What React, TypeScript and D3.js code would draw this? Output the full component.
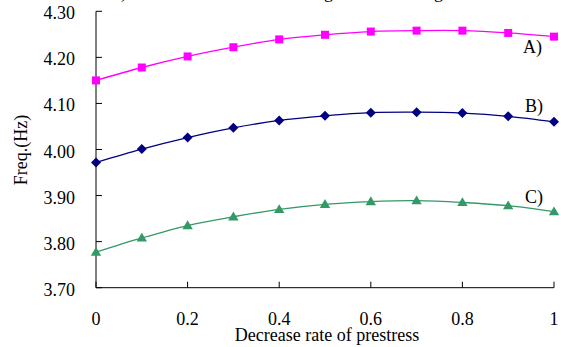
import React from "react";
import * as d3 from "d3";

const xValues = [0, 0.1, 0.2, 0.3, 0.4, 0.5, 0.6, 0.7, 0.8, 0.9, 1.0];
const seriesA = [4.150, 4.178, 4.202, 4.222, 4.239, 4.249, 4.256, 4.258, 4.258, 4.253, 4.245];
const seriesB = [3.972, 4.001, 4.026, 4.047, 4.063, 4.073, 4.080, 4.081, 4.079, 4.072, 4.060];
const seriesC = [3.777, 3.808, 3.835, 3.854, 3.870, 3.881, 3.887, 3.889, 3.885, 3.878, 3.865];
const seriesLabels = ["A)", "B)", "C)"];
const xTicks = [0, 0.2, 0.4, 0.6, 0.8, 1];
const yTicks = [3.7, 3.8, 3.9, 4.0, 4.1, 4.2, 4.3];
const titleFragments = [")", "g", "g"];

const W = 561;
const H = 347;
const left = 96;
const right = 554;
const top = 11.3;
const bottom = 287.7;
const FONT = "'Liberation Serif', 'Times New Roman', serif";

export default function App() {
  const x = d3.scaleLinear().domain([0, 1]).range([left, right]);
  const y = d3.scaleLinear().domain([3.7, 4.3]).range([bottom, top]);
  const line = d3
    .line<number>()
    .x((_, i) => x(xValues[i]))
    .y((d) => y(d))
    .curve(d3.curveCatmullRom.alpha(0.5));

  const series = [
    { data: seriesA, color: "#FF00FF", marker: "square", label: seriesLabels[0] },
    { data: seriesB, color: "#000080", marker: "diamond", label: seriesLabels[1] },
    { data: seriesC, color: "#339966", marker: "triangle", label: seriesLabels[2] },
  ];

  const markerPath = (m: string, cx: number, cy: number) => {
    if (m === "square") {
      const s = 4;
      return `M${cx - s},${cy - s}H${cx + s}V${cy + s}H${cx - s}Z`;
    }
    if (m === "diamond") {
      const s = 5;
      return `M${cx},${cy - s}L${cx + s},${cy}L${cx},${cy + s}L${cx - s},${cy}Z`;
    }
    const s = 5.2;
    return `M${cx},${cy - s}L${cx + s},${cy + s * 0.7}L${cx - s},${cy + s * 0.7}Z`;
  };

  const labelPos = [
    { x: 523, y: 53 },
    { x: 525, y: 112 },
    { x: 525, y: 203 },
  ];
  const fragX = [121, 324, 434];

  return (
    <svg
      width={W}
      height={H}
      style={{ position: "absolute", left: 0, top: 0, background: "#fff" }}
      fontFamily={FONT}
    >
      <rect x={0} y={0} width={W} height={H} fill="#fff" />
      {titleFragments.map((t, i) => (
        <text key={i} x={fragX[i]} y={-2} fontSize={18} fill="#000">
          {t}
        </text>
      ))}
      {/* axes */}
      <line x1={left} x2={left} y1={top} y2={bottom} stroke="#000" strokeWidth={1} />
      <line x1={left} x2={right} y1={bottom} y2={bottom} stroke="#000" strokeWidth={1} />
      {yTicks.map((t) => (
        <g key={t}>
          <line x1={left} x2={left + 6} y1={y(t)} y2={y(t)} stroke="#000" strokeWidth={1} />
          <text x={75} y={y(t) + 8} fontSize={18} textAnchor="end" fill="#000">
            {t.toFixed(2)}
          </text>
        </g>
      ))}
      {xTicks.map((t) => (
        <g key={t}>
          <line x1={x(t)} x2={x(t)} y1={bottom} y2={bottom - 6} stroke="#000" strokeWidth={1} />
          <text x={x(t)} y={325} fontSize={18} textAnchor="middle" fill="#000">
            {String(t)}
          </text>
        </g>
      ))}
      <text x={327} y={341} fontSize={18} textAnchor="middle" fill="#000">
        Decrease rate of prestress
      </text>
      <text
        transform={`translate(27,150) rotate(-90)`}
        fontSize={18}
        textAnchor="middle"
        fill="#000"
      >
        Freq.(Hz)
      </text>
      {series.map((s, si) => (
        <g key={si}>
          <path d={line(s.data) || ""} fill="none" stroke={s.color} strokeWidth={1.3} />
          {s.data.map((v, i) => (
            <path key={i} d={markerPath(s.marker, x(xValues[i]), y(v))} fill={s.color} />
          ))}
          <text x={labelPos[si].x} y={labelPos[si].y} fontSize={18} fill="#000">
            {s.label}
          </text>
        </g>
      ))}
    </svg>
  );
}
